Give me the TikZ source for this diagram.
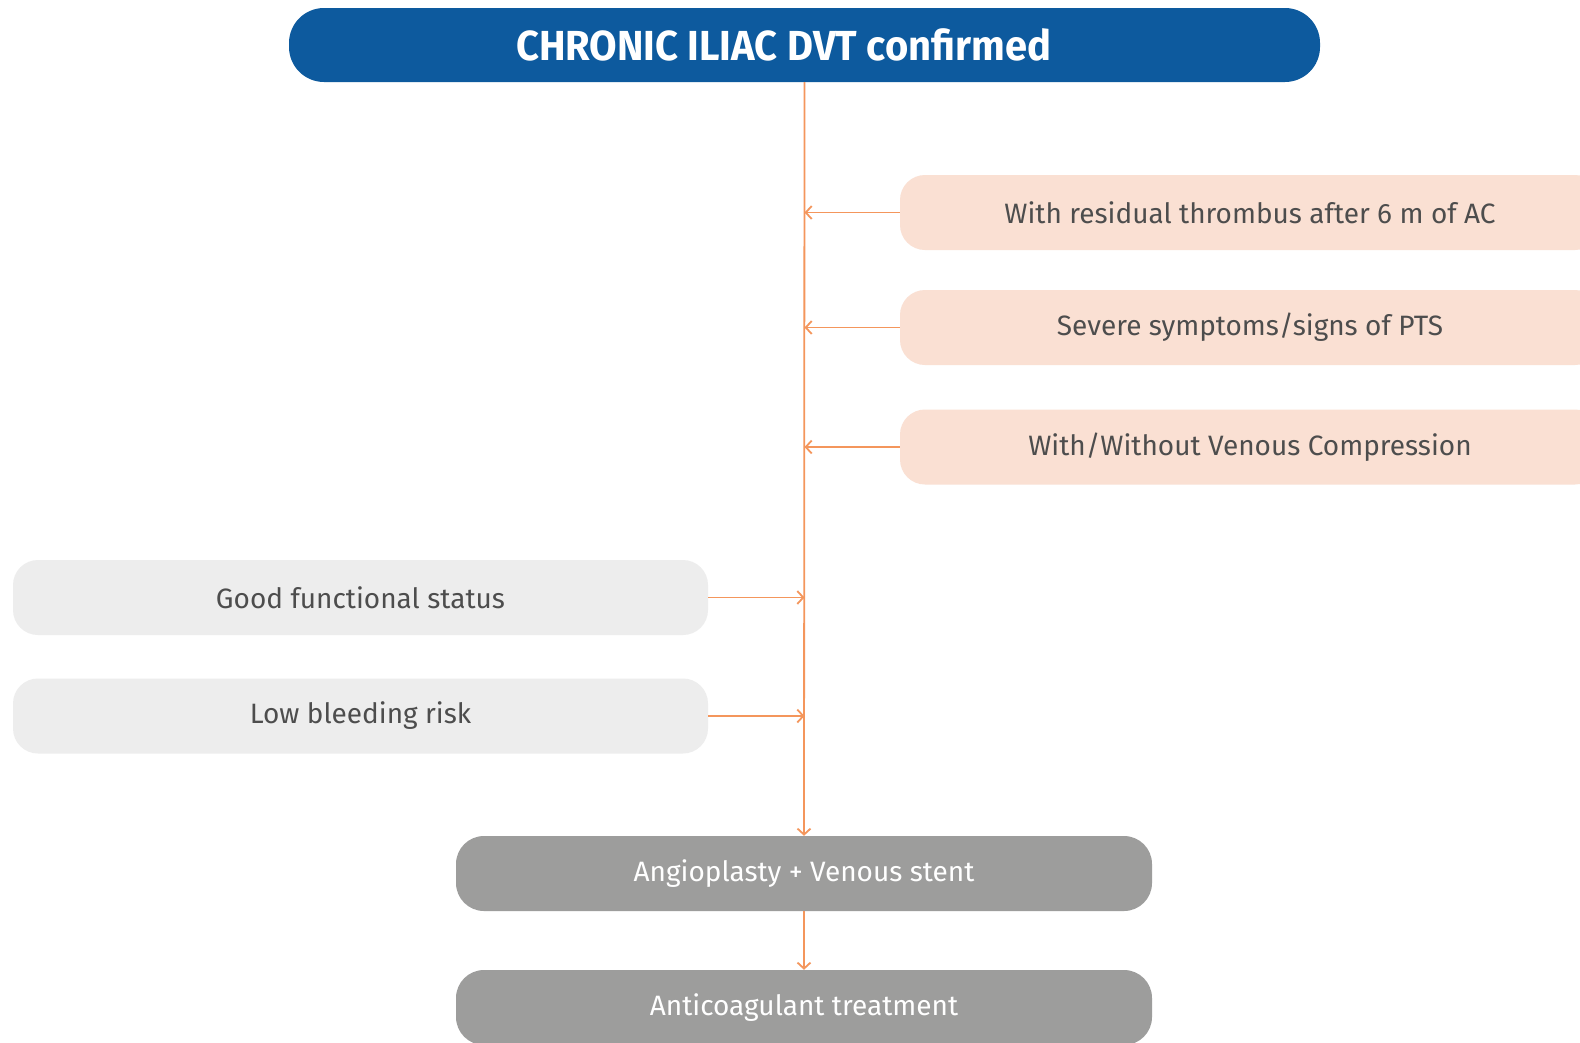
\documentclass[tikz,border=0pt]{standalone}
\usepackage{fontspec}
\setmainfont{Fira Sans}
\newfontfamily\titlefont[FakeStretch=0.95]{Fira Sans}
\usetikzlibrary{arrows.meta}
\definecolor{topblue}{HTML}{0D5A9E}
\definecolor{peach}{HTML}{FAE0D3}
\definecolor{lgrey}{HTML}{EDEDED}
\definecolor{dgrey}{HTML}{9D9D9C}
\definecolor{lineor}{HTML}{F4965C}
\definecolor{txt}{HTML}{4D4D4D}
\tikzset{
  box/.style={rectangle, minimum height=75pt, inner sep=0pt, font=\fontsize{28}{33}\selectfont},
  cond/.style={box, fill=peach, text=txt, minimum width=700pt, rounded corners=25pt},
  pat/.style={box, fill=lgrey, text=txt, minimum width=695pt, rounded corners=25pt},
  act/.style={box, fill=dgrey, text=white, minimum width=696pt, rounded corners=28pt},
  arr/.style={draw=lineor, line width=1.8pt, -{Straight Barb[length=6pt,width=13pt,line width=1.8pt]}},
}
\begin{document}
\begin{tikzpicture}[x=1pt,y=-1pt]
\useasboundingbox (0,0) rectangle (1580,1042);
\clip (0,0) rectangle (1580,1042);
\fill[white] (0,0) rectangle (1580,1042);
\node[box, fill=topblue, text=white, minimum width=1031pt, minimum height=74pt, rounded corners=35pt, font=\titlefont\fontsize{42}{48}\selectfont\bfseries] (top) at (804.5,45) {\hspace*{-42pt}CHRONIC ILIAC DVT confirmed};
\node[cond] (r1) at (1250,212.5) {With residual thrombus after 6 m of AC};
\node[cond] (r2) at (1250,327.5) {Severe symptoms/signs of PTS};
\node[cond] (r3) at (1250,447) {With/Without Venous Compression};
\node[pat] (l1) at (360.5,597.5) {Good functional status};
\node[pat] (l2) at (360.5,716) {Low bleeding risk};
\node[act] (b1) at (804,873.5) {Angioplasty + Venous stent};
\node[act] (b2) at (804,1007.5) {Anticoagulant treatment};
\draw[arr] (top.south) -- (b1.north);
\draw[arr] (b1.south) -- (b2.north);
\draw[arr] (r1.west) -- (r1.west -| top.south);
\draw[arr] (r2.west) -- (r2.west -| top.south);
\draw[arr] (r3.west) -- (r3.west -| top.south);
\draw[arr] (l1.east) -- (l1.east -| top.south);
\draw[arr] (l2.east) -- (l2.east -| top.south);
\end{tikzpicture}
\end{document}
